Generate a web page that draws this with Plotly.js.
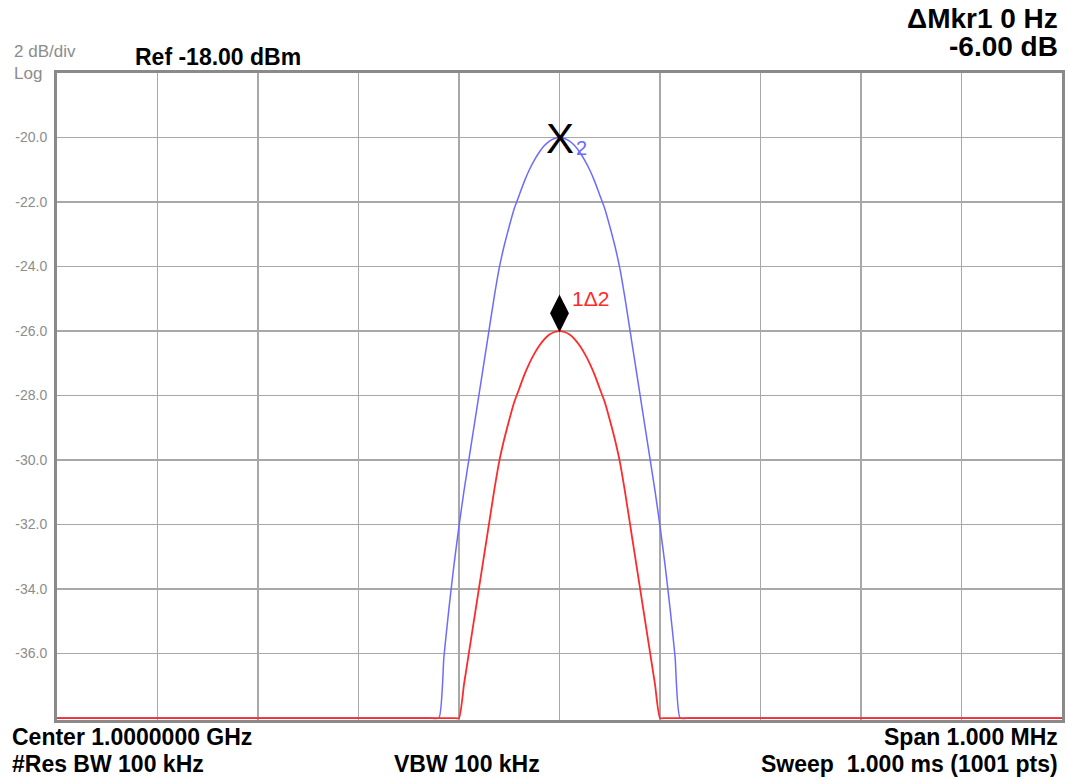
<!DOCTYPE html>
<html>
<head>
<meta charset="utf-8">
<script src="https://cdn.plot.ly/plotly-3.0.1.min.js"></script>
<style>html,body{margin:0;padding:0;background:#fff;}#chart{width:1068px;height:780px;}</style>
</head>
<body>
<div id="chart"></div>
<script>
// Frequency offset from center (kHz)
const freqKHz = [-500,-130,-120,-115,-110,-105,-100,-95,-90,-85,-80,-75,-70,-65,-60,-55,-50,-45,-40,-35,-30,-25,-20,-15,-10,-5,0,
                 5,10,15,20,25,30,35,40,45,50,55,60,65,70,75,80,85,90,95,100,105,110,115,120,130,500];
// Trace 2 (blue) amplitude, dBm (floor = -38)
const trace2 = [-38,-38,-38,-36.1,-34.6,-33.25,-32.05,-30.95,-29.95,-28.95,-27.95,-26.95,-25.95,-24.95,-24.05,-23.35,-22.75,-22.2,-21.78,-21.36,-21,-20.7,-20.45,-20.25,-20.11,-20.03,-20,
                -20.03,-20.11,-20.25,-20.45,-20.7,-21,-21.36,-21.78,-22.2,-22.75,-23.35,-24.05,-24.95,-25.95,-26.95,-27.95,-28.95,-29.95,-30.95,-32.05,-33.25,-34.6,-36.1,-38,-38,-38];
// Trace 1 (red) amplitude, dBm (floor = -38)
const trace1 = [-38,-38,-38,-38,-38,-38,-38,-36.95,-35.95,-34.95,-33.95,-32.95,-31.95,-30.95,-30.05,-29.35,-28.75,-28.2,-27.78,-27.36,-27,-26.7,-26.45,-26.25,-26.11,-26.03,-26,
                -26.03,-26.11,-26.25,-26.45,-26.7,-27,-27.36,-27.78,-28.2,-28.75,-29.35,-30.05,-30.95,-31.95,-32.95,-33.95,-34.95,-35.95,-36.95,-38,-38,-38,-38,-38,-38,-38];
const yTicks = [-20,-22,-24,-26,-28,-30,-32,-34,-36];
const yTickText = ["-20.0","-22.0","-24.0","-26.0","-28.0","-30.0","-32.0","-34.0","-36.0"];
const xGrid = [-500,-400,-300,-200,-100,0,100,200,300,400,500];
const mkr2 = {x:[0], y:[-20], label:'2'};
const mkr1 = {x:[0], y:[-25.45], label:'1Δ2'};

const F = "Liberation Sans, Arial, sans-serif";
const data = [
  {x:freqKHz, y:trace2, type:'scatter', mode:'lines', line:{color:'#6b6bff', width:1.5, shape:'spline', smoothing:0.5}, hoverinfo:'skip'},
  {x:freqKHz, y:trace1, type:'scatter', mode:'lines', line:{color:'#ff2a2a', width:1.8, shape:'spline', smoothing:0.5}, hoverinfo:'skip'},
  {x:mkr1.x, y:mkr1.y, type:'scatter', mode:'markers', marker:{symbol:'diamond-tall', size:27, color:'#000', line:{width:0}}, cliponaxis:false, hoverinfo:'skip'}
];
const layout = {
  width:1068, height:780,
  margin:{l:57, r:6, t:73, b:60},
  paper_bgcolor:'#fff', plot_bgcolor:'#fff',
  showlegend:false,
  xaxis:{range:[-500,500], tickvals:xGrid, showticklabels:false, ticks:'', showgrid:true, gridcolor:'#a8a8a8', gridwidth:1.5,
    zeroline:false, showline:true, mirror:true, linecolor:'#8a8a8a', linewidth:3, layer:'below traces', fixedrange:true},
  yaxis:{range:[-38.06,-18], tickvals:yTicks, ticktext:yTickText, ticks:'', showgrid:true, gridcolor:'#a8a8a8', gridwidth:1.5,
    zeroline:false, showline:true, mirror:true, linecolor:'#8a8a8a', linewidth:3, layer:'below traces',
    tickfont:{family:F, size:14, color:'#8c8c8c'}, ticklabelstandoff:4, fixedrange:true},
  annotations:[
    {xref:'paper', yref:'paper', x:-0.0448, y:1.0155, xanchor:'left', yanchor:'middle', align:'left', text:'2 dB/div<br>Log', showarrow:false, font:{family:F, size:17, color:'#8c8c8c'}},
    {xref:'paper', yref:'paper', x:0.0756, y:1.0247, xanchor:'left', yanchor:'middle', text:'<b>Ref -18.00 dBm</b>', showarrow:false, font:{family:F, size:23, color:'#000'}},
    {xref:'paper', yref:'paper', x:0.998, y:1.085, xanchor:'right', yanchor:'middle', text:'<b>ΔMkr1 0 Hz</b>', showarrow:false, font:{family:F, size:28, color:'#000'}},
    {xref:'paper', yref:'paper', x:0.998, y:1.0417, xanchor:'right', yanchor:'middle', text:'<b>-6.00 dB</b>', showarrow:false, font:{family:F, size:28, color:'#000'}},
    {xref:'paper', yref:'paper', x:-0.0468, y:-0.0263, xanchor:'left', yanchor:'middle', text:'<b>Center 1.0000000 GHz</b>', showarrow:false, font:{family:F, size:23, color:'#000'}},
    {xref:'paper', yref:'paper', x:-0.0468, y:-0.068, xanchor:'left', yanchor:'middle', text:'<b>#Res BW 100 kHz</b>', showarrow:false, font:{family:F, size:23, color:'#000'}},
    {xref:'paper', yref:'paper', x:0.4080, y:-0.068, xanchor:'center', yanchor:'middle', text:'<b>VBW 100 kHz</b>', showarrow:false, font:{family:F, size:23, color:'#000'}},
    {xref:'paper', yref:'paper', x:0.998, y:-0.0263, xanchor:'right', yanchor:'middle', text:'<b>Span 1.000 MHz</b>', showarrow:false, font:{family:F, size:23, color:'#000'}},
    {xref:'paper', yref:'paper', x:0.998, y:-0.068, xanchor:'right', yanchor:'middle', text:'<b>Sweep  1.000 ms (1001 pts)</b>', showarrow:false, font:{family:F, size:23, color:'#000'}},
    {xref:'x', yref:'y', x:mkr2.x[0], y:mkr2.y[0], yshift:-1, xanchor:'center', yanchor:'middle', text:'X', showarrow:false, borderpad:0, font:{family:"Liberation Sans Narrow, Liberation Sans, Arial, sans-serif", size:42, color:'#000'}},
    {xref:'x', yref:'y', x:mkr2.x[0], y:mkr2.y[0], xshift:22, yshift:-10, xanchor:'center', yanchor:'middle', text:mkr2.label, showarrow:false, font:{family:F, size:20, color:'#6b6bff'}},
    {xref:'x', yref:'y', x:mkr1.x[0], y:mkr1.y[0], xshift:10, yshift:15, xanchor:'left', yanchor:'middle', text:mkr1.label, showarrow:false, font:{family:F, size:21, color:'#ff2a2a'}}
  ]
};
Plotly.newPlot('chart', data, layout, {displayModeBar:false, staticPlot:true});
</script>
</body>
</html>
